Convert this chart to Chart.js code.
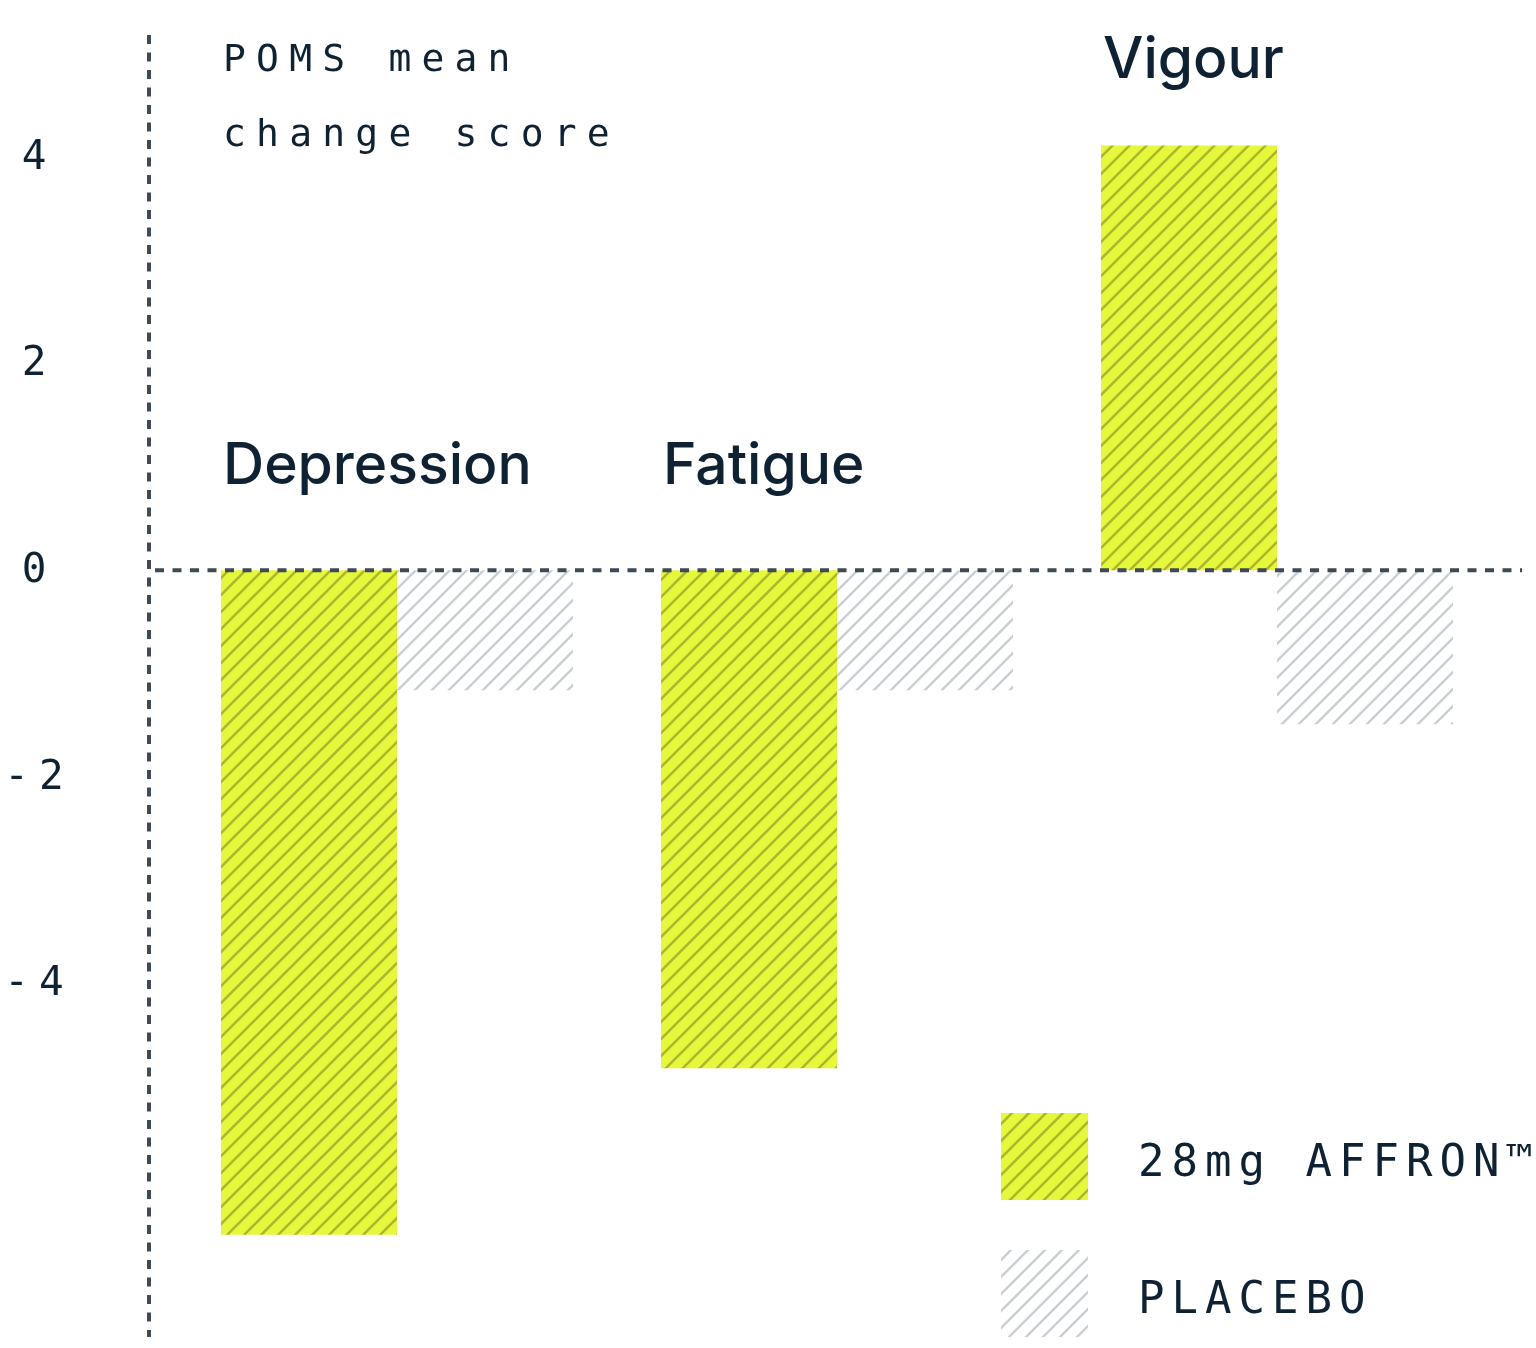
<!DOCTYPE html>
<html>
<head>
<meta charset="utf-8">
<script src="https://cdn.jsdelivr.net/npm/chart.js@4.4.1/dist/chart.umd.min.js"></script>
<style>
  html, body { margin: 0; padding: 0; background: #fff; }
  #wrap { width: 1536px; height: 1348px; position: relative; }
</style>
</head>
<body>
<div id="wrap"><canvas id="poms"></canvas></div>
<script>
// ---- data ----
const categories = ['Depression', 'Fatigue', 'Vigour'];
const affronValues = [-6.43, -4.82, 4.11];
const placeboValues = [-1.16, -1.16, -1.49];
const yTicks = [4, 2, 0, -2, -4];
const seriesNames = ['28mg AFFRON\u2122', 'PLACEBO'];
const titleLines = ['POMS mean', 'change score'];

const INK = '#0f2233';
const AXIS = '#3e4a55';
const MONO = '"DejaVu Sans Mono", "Liberation Mono", monospace';

// diagonal hatch pattern  ( "/" lines )
function hatch(bg, line, width) {
  const s = 17;
  const c = document.createElement('canvas');
  c.width = s; c.height = s;
  const g = c.getContext('2d');
  if (bg) { g.fillStyle = bg; g.fillRect(0, 0, s, s); }
  g.strokeStyle = line; g.lineWidth = width; g.lineCap = 'square';
  g.beginPath();
  g.moveTo(-1, s + 1); g.lineTo(s + 1, -1);
  g.moveTo(-2, 2); g.lineTo(2, -2);
  g.moveTo(s - 2, s + 2); g.lineTo(s + 2, s - 2);
  g.stroke();
  return g.createPattern(c, 'repeat');
}
const yellowHatch = hatch('#e6f83c', 'rgba(165,170,40,0.85)', 2.6);
const greyHatch = hatch(null, '#c9cfd4', 2.4);

function spaced(ctx, px) { if ('letterSpacing' in ctx) ctx.letterSpacing = px + 'px'; }

const decor = {
  id: 'decor',
  afterDatasetsDraw(chart) {
    const { ctx, chartArea, scales: { y } } = chart;
    const axisX = chartArea.left - 28;
    const zeroY = y.getPixelForValue(0);
    ctx.save();
    // vertical dotted axis
    ctx.strokeStyle = AXIS;
    ctx.lineWidth = 4;
    ctx.setLineDash([9, 8.5]);
    ctx.beginPath();
    ctx.moveTo(axisX, chartArea.top);
    ctx.lineTo(axisX, chartArea.bottom);
    ctx.stroke();
    // zero line
    ctx.beginPath();
    ctx.moveTo(axisX + 6, zeroY);
    ctx.lineTo(chart.width - 14, zeroY);
    ctx.stroke();
    ctx.setLineDash([]);

    // y tick labels
    ctx.fillStyle = INK;
    ctx.font = '41px ' + MONO;
    ctx.textAlign = 'center';
    ctx.textBaseline = 'middle';
    spaced(ctx, 10);
    yTicks.forEach(v => {
      ctx.fillText(String(v), 39, y.getPixelForValue(v) + 1);
    });

    // title
    ctx.textAlign = 'left';
    ctx.textBaseline = 'alphabetic';
    ctx.font = '38px ' + MONO;
    spaced(ctx, 10.2);
    ctx.fillText(titleLines[0], 223, 71);
    ctx.fillText(titleLines[1], 223, 146);

    // category labels
    spaced(ctx, 0);
    ctx.font = '500 57px Inter, "Liberation Sans", sans-serif';
    const meta = chart.getDatasetMeta(0);
    categories.forEach((c, i) => {
      const bar = meta.data[i];
      const left = bar.x - bar.width / 2;
      const v = affronValues[i];
      const base = v > 0 ? y.getPixelForValue(v) - 68 : zeroY - 86;
      ctx.fillText(c, left + 2, base);
    });

    // legend
    const boxes = [[1001, 1113], [1001, 1250]];
    chart.data.datasets.forEach((ds, i) => {
      const [bx, by] = boxes[i];
      ctx.fillStyle = ds.backgroundColor;
      ctx.fillRect(bx, by, 87, 87);
      ctx.fillStyle = INK;
      ctx.font = '44px ' + MONO;
      spaced(ctx, 7);
      ctx.textBaseline = 'middle';
      ctx.fillText(ds.label, 1138, by + 52);
    });
    ctx.restore();
  }
};

new Chart(document.getElementById('poms'), {
  type: 'bar',
  data: {
    labels: categories,
    datasets: [
      { label: seriesNames[0], data: affronValues, backgroundColor: yellowHatch, borderWidth: 0 },
      { label: seriesNames[1], data: placeboValues, backgroundColor: greyHatch, borderWidth: 0 }
    ]
  },
  options: {
    responsive: true,
    maintainAspectRatio: false,
    animation: false,
    layout: { padding: { left: 177, right: 39, top: 35, bottom: 11 } },
    plugins: { legend: { display: false }, tooltip: { enabled: false } },
    datasets: { bar: { categoryPercentage: 0.8, barPercentage: 1.0 } },
    scales: {
      x: { display: false, offset: true },
      y: { display: false, min: -7.42, max: 5.18 }
    }
  },
  plugins: [decor]
});
</script>
</body>
</html>
